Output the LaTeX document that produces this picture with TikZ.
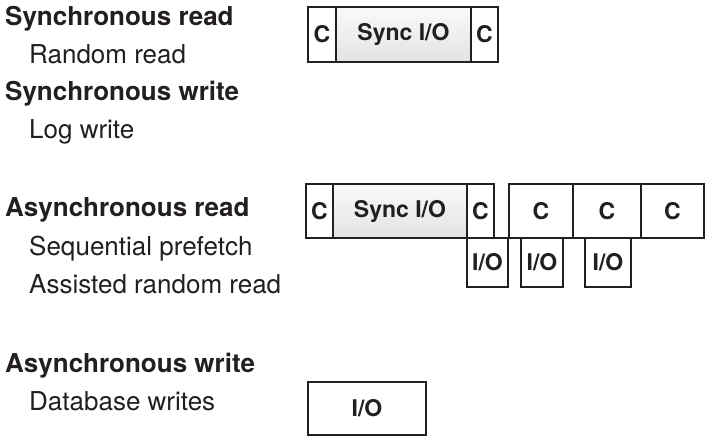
\documentclass[tikz,border=0pt]{standalone}
\usepackage{fontspec}
\setmainfont{TeX Gyre Heros}
\definecolor{ink}{RGB}{35,31,32}
\begin{document}
\begin{tikzpicture}[x=1pt,y=-1pt,
  lbl/.style={anchor=base west,inner sep=0pt,text=ink,font=\fontsize{26}{30}\selectfont},
  head/.style={lbl,font=\fontsize{26}{30}\selectfont\bfseries},
  cell/.style={draw=ink,line width=2.3pt,fill=white,inner sep=0pt,text=ink,
    font=\fontsize{23}{26}\selectfont\bfseries},
  synccell/.style={cell,top color=gray!4,bottom color=gray!22},
]
\useasboundingbox (0,0) rectangle (706,438);
% labels
\node[head] (h1) at (5,26) {Synchronous read};
\node[lbl]  (l1) at (29,64) {Random read};
\node[head] (h2) at (5,101) {Synchronous write};
\node[lbl]  (l2) at (29,139) {Log write};
\node[head] (h3) at (5,217) {Asynchronous read};
\node[lbl]  (l3) at (29,255) {Sequential prefetch};
\node[lbl]  (l4) at (29,293) {Assisted random read};
\node[head] (h4) at (5,372) {Asynchronous write};
\node[lbl]  (l5) at (29,410) {Database writes};
% top row
\node[cell,minimum width=28pt,minimum height=55pt] (tc1) at (322,34.5) {C};
\node[synccell,minimum width=135pt,minimum height=55pt] (ts) at (403.5,34.5) {Sync I/O};
\node[cell,minimum width=27pt,minimum height=55pt] (tc2) at (484.5,34.5) {C};
% second row
\node[cell,minimum width=27pt,minimum height=54pt] (a1) at (319.5,211) {C};
\node[synccell,minimum width=134pt,minimum height=54pt] (as) at (400,211) {Sync I/O};
\node[cell,minimum width=27pt,minimum height=54pt] (a2) at (480.5,211) {C};
\node[cell,minimum width=64pt,minimum height=54pt] (b1) at (541,211) {C};
\node[cell,minimum width=68pt,minimum height=54pt] (b2) at (607,211) {C};
\node[cell,minimum width=63pt,minimum height=54pt] (b3) at (672.5,211) {C};
% I/O row
\node[cell,minimum width=41pt,minimum height=49pt] (i1) at (487.5,262.5) {I/O};
\node[cell,minimum width=42pt,minimum height=49pt] (i2) at (542,262.5) {I/O};
\node[cell,minimum width=46pt,minimum height=49pt] (i3) at (608,262.5) {I/O};
% bottom
\node[cell,minimum width=118pt,minimum height=53pt] (bw) at (367,408.5) {I/O};
\end{tikzpicture}
\end{document}
